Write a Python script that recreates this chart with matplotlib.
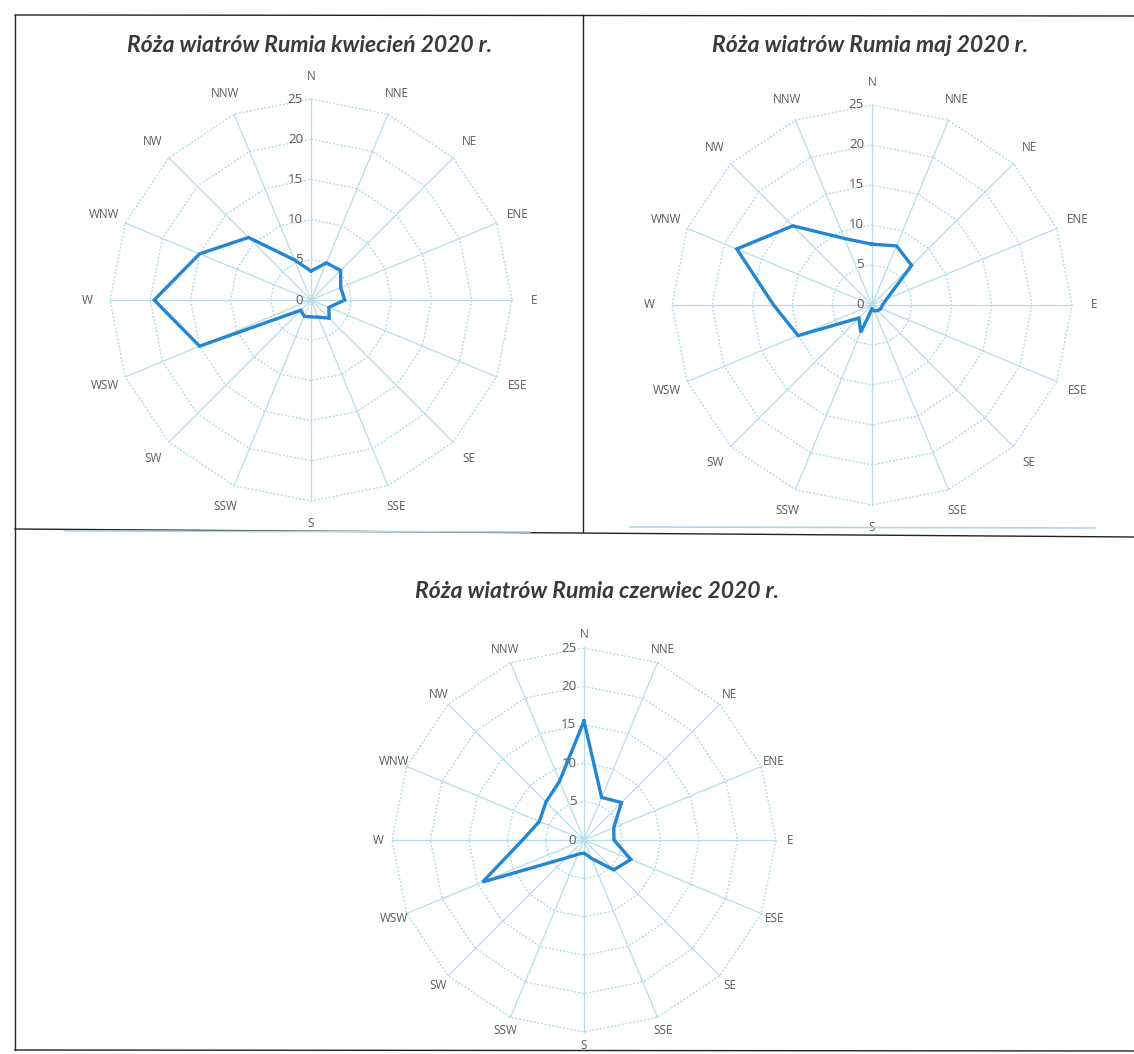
import numpy as np
import matplotlib
matplotlib.use("Agg")
import matplotlib.pyplot as plt
from matplotlib.lines import Line2D

# ---- data ----
directions = ["N", "NNE", "NE", "ENE", "E", "ESE", "SE", "SSE",
              "S", "SSW", "SW", "WSW", "W", "WNW", "NW", "NNW"]
ring_values = [0, 5, 10, 15, 20, 25]

april = [3.6, 5.0, 5.2, 4.0, 4.2, 2.4, 3.2, 2.3, 2.1, 2.2, 1.8, 15.0, 19.5, 15.0, 11.0, 5.4]
may = [7.6, 8.0, 7.0, 2.0, 1.3, 1.2, 1.0, 0.8, 0.5, 3.7, 2.3, 10.0, 12.3, 18.3, 14.0, 9.0]
june = [15.5, 6.0, 6.9, 4.2, 3.9, 6.6, 5.5, 2.6, 1.7, 2.0, 3.3, 14.3, 8.0, 6.3, 7.0, 8.3]

titles = ["Róża wiatrów Rumia kwiecień 2020 r.",
          "Róża wiatrów Rumia maj 2020 r.",
          "Róża wiatrów Rumia czerwiec 2020 r."]

W, H = 1134, 1054
fig = plt.figure(figsize=(W / 100, H / 100), dpi=100)
fig.patch.set_facecolor("white")

GRID = "#a6d6e2"
SPOKE = "#b5dde8"
LINE = "#2386d4"
TXT = "#5a5a5a"
LIM = 31.0


def radar(cx, cy, ppu, values, rl):
    ax = fig.add_axes([(cx - LIM * ppu) / W, (H - cy - LIM * ppu) / H,
                       2 * LIM * ppu / W, 2 * LIM * ppu / H])
    ax.set_xlim(-LIM, LIM)
    ax.set_ylim(-LIM, LIM)
    ax.set_aspect("equal")
    ax.axis("off")
    n = len(directions)
    th = np.arange(n) * 2 * np.pi / n
    thc = np.append(th, th[0])
    rmax = ring_values[-1]
    # rings
    for rv in ring_values[1:]:
        ax.plot(rv * np.sin(thc), rv * np.cos(thc), color=GRID, lw=0.9,
                ls=(0, (1.5, 1.5)), zorder=1)
    # spokes
    for t in th:
        ax.plot([0, rmax * np.sin(t)], [0, rmax * np.cos(t)], color=SPOKE,
                lw=0.9, zorder=1)
    # category labels
    for t, name in zip(th, directions):
        ax.text(rl * np.sin(t), rl * np.cos(t), name, ha="center", va="center",
                fontsize=8.5, color=TXT, family="Open Sans")
    # radial labels
    for rv in ring_values:
        ax.text(-1.0, rv, str(rv), ha="right", va="center", fontsize=9.5,
                color=TXT, family="Open Sans")
    v = np.append(values, values[0])
    ax.plot(v * np.sin(thc), v * np.cos(thc), color=LINE, lw=2.4,
            solid_joinstyle="miter", zorder=3)
    return ax


radar(311, 300, 8.04, april, 27.8)
radar(872, 305, 8.0, may, 27.8)
radar(584, 840, 7.68, june, 26.8)

title_kw = dict(ha="center", va="center", fontsize=16.5, fontweight="bold",
                fontstyle="italic", color="#3a3a3a", family="Lato")
fig.text(310 / W, 1 - 45 / H, titles[0], **title_kw)
fig.text(870 / W, 1 - 45 / H, titles[1], **title_kw)
fig.text(597 / W, 1 - 592 / H, titles[2], **title_kw)


def fline(x0, y0, x1, y1, color="#222222", lw=1.0):
    fig.add_artist(Line2D([x0 / W, x1 / W], [1 - y0 / H, 1 - y1 / H],
                          color=color, lw=lw, transform=fig.transFigure))


# document frame
fline(15, 15, 1134, 16)
fline(15, 15, 15, 1050)
fline(583, 15, 583, 532)
fline(15, 529, 1134, 537)
fline(15, 1050, 1134, 1051)
# chart area bottom edges
fline(65, 531, 530, 532, color="#b0d6e2", lw=1.2)
fline(630, 527, 1095, 528, color="#b0d6e2", lw=1.2)

fig.savefig("out.png", dpi=100, facecolor="white")
